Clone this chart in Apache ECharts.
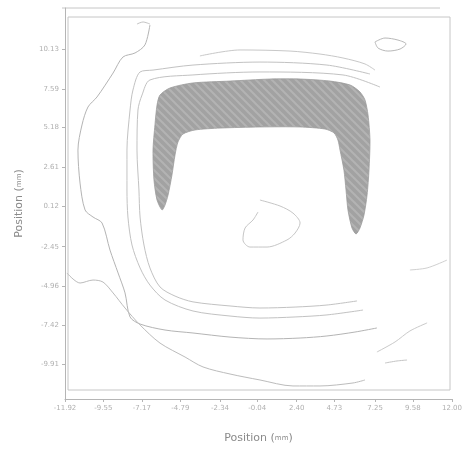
<!DOCTYPE html>
<html>
<head>
<meta charset="utf-8">
<script src="https://cdn.jsdelivr.net/npm/echarts@6/dist/echarts.min.js"></script>
<style>html,body{margin:0;padding:0;background:#fff;}#c{width:468px;height:449px;}</style>
</head>
<body>
<div id="c"></div>
<script>
// Axis tick labels (mm)
const xTickLabels = ['-11.92','-9.55','-7.17','-4.79','-2.34','-0.04','2.40','4.73','7.25','9.58','12.00'];
const yTickLabels = ['10.13','7.59','5.18','2.61','0.12','-2.45','-4.96','-7.42','-9.91'];
const xRange = [-11.92, 12.00];
const yRange = [-12.14, 12.74];

// Filled region (horseshoe) boundary [x, y] in mm
const filledRegion = [
  [-5.92,-0.11],[-6.23,0.52],[-6.42,1.80],[-6.48,3.70],[-6.36,5.30],[-6.23,6.57],[-6.05,7.20],
  [-5.43,7.65],[-4.01,7.97],[-1.72,8.09],[0.75,8.22],[2.61,8.22],[4.46,8.09],[5.70,7.84],
  [6.31,7.40],[6.62,6.89],[6.81,5.93],[6.93,4.34],[6.87,2.43],[6.75,0.84],[6.56,-0.43],
  [6.31,-1.26],[6.07,-1.64],[5.82,-1.26],[5.57,-0.11],[5.45,1.16],[5.32,2.43],[5.08,3.70],
  [4.95,4.34],[4.71,4.79],[4.15,5.04],[2.61,5.17],[0.13,5.17],[-2.34,5.10],[-3.88,4.98],
  [-4.63,4.72],[-4.94,4.21],[-5.12,3.39],[-5.31,2.11],[-5.55,0.84],[-5.74,0.20]
];

// Contour lines [x, y] in mm
const contourA = [[7.55,7.71],[5.26,8.48],[0.13,8.67],[-4.01,8.48],[-6.67,8.16],[-7.16,7.20],[-7.41,6.25],[-7.47,3.70],[-7.35,1.16],[-7.28,-0.56],[-7.04,-2.34],[-6.67,-3.80],[-6.05,-5.01],[-5.12,-5.59],[-4.01,-5.96],[-1.72,-6.22],[0.13,-6.35],[2.30,-6.29],[4.27,-6.16],[6.13,-5.90]];
const contourB = [[6.93,8.54],[4.27,9.11],[0.13,9.30],[-4.01,9.11],[-6.48,8.79],[-7.28,8.67],[-7.72,7.52],[-7.90,6.25],[-8.09,3.70],[-8.09,1.16],[-8.03,-0.56],[-7.78,-2.34],[-7.28,-3.80],[-6.67,-4.89],[-5.74,-5.84],[-4.01,-6.54],[-1.72,-6.86],[0.13,-6.99],[2.30,-6.92],[4.27,-6.79],[6.50,-6.48]];
const contourTop = [[-3.58,9.69],[-1.10,10.07],[1.99,10.00],[3.84,9.81],[5.26,9.56],[6.62,9.18],[7.24,8.79]];
const contourC = [[-6.67,11.66],[-6.98,10.39],[-7.59,9.88],[-8.34,9.62],[-8.95,8.60],[-9.94,7.08],[-10.50,6.44],[-10.87,5.30],[-11.12,3.70],[-10.99,1.60],[-10.68,-0.11],[-10.19,-0.56],[-9.63,-0.94],[-9.14,-2.66],[-8.64,-4.12],[-8.21,-5.39],[-7.90,-6.92],[-7.28,-7.37],[-5.74,-7.75],[-4.01,-7.94],[-1.72,-8.20],[0.57,-8.32],[2.61,-8.26],[4.27,-8.13],[6.00,-7.88],[7.36,-7.62]];
const contourD = [[-11.80,-4.12],[-10.99,-4.76],[-10.19,-4.57],[-9.57,-4.70],[-8.95,-5.39],[-8.21,-6.35],[-7.28,-7.43],[-6.05,-8.58],[-4.50,-9.47],[-3.39,-10.10],[-1.72,-10.55],[0.13,-10.93],[2.17,-11.31],[3.84,-11.31],[5.88,-11.12],[6.62,-10.93]];
const contourE = [[7.36,-9.15],[8.48,-8.51],[9.40,-7.81],[10.46,-7.30]];
const contourF = [[7.86,-9.85],[8.60,-9.72],[9.22,-9.66]];
const contourG = [[9.40,-3.93],[10.46,-3.80],[11.69,-3.30]];
const contourCenter = [[0.13,0.52],[1.37,0.14],[2.17,-0.31],[2.61,-0.94],[2.30,-1.58],[1.80,-2.02],[0.57,-2.47],[-0.49,-2.47],[-0.92,-2.02],[-0.79,-1.26],[-0.30,-0.75],[0.01,-0.24]];
const contourLoop = [[7.24,10.58],[7.86,10.83],[8.66,10.70],[9.16,10.45],[8.79,10.13],[8.04,10.00],[7.43,10.19],[7.24,10.58]];
const contourSmall = [[-7.47,11.72],[-7.10,11.85],[-6.67,11.72]];

const xTickValues = xTickLabels.map(Number);
const yTickValues = yTickLabels.map(Number);

// hatch pattern for filled region
const pc = document.createElement('canvas');
pc.width = 8; pc.height = 8;
const g = pc.getContext('2d');
g.fillStyle = '#a2a2a2'; g.fillRect(0,0,8,8);
g.strokeStyle = '#b3b3b3'; g.lineWidth = 2;
g.beginPath(); g.moveTo(0,0); g.lineTo(8,8); g.moveTo(-4,4); g.lineTo(4,12); g.moveTo(4,-4); g.lineTo(12,4); g.stroke();

const chart = echarts.init(document.getElementById('c'), null, {renderer:'canvas'});
const FONT = 'DejaVu Sans';
const lineSeries = (data, color) => ({
  type:'line', data, xAxisIndex:0, yAxisIndex:0, showSymbol:false, symbol:'none',
  smooth:0.3, silent:true, lineStyle:{color: color || '#bdbdbd', width:1}, z:3
});

chart.setOption({
  animation:false,
  backgroundColor:'#fff',
  grid:[
    {left:65, right:16, top:8, bottom:50, show:false},
    {left:68, right:18, top:17, bottom:59, show:true, borderColor:'#c6c6c6', borderWidth:1, backgroundColor:'transparent'}
  ],
  xAxis:[
    {type:'value', gridIndex:0, min:xRange[0], max:xRange[1],
     name:'Position ({s|mm})', nameLocation:'middle', nameGap:34,
     nameTextStyle:{color:'#8a8a8a', fontSize:11, fontFamily:FONT, rich:{s:{fontSize:7, color:'#8a8a8a', fontFamily:FONT}}},
     axisLine:{show:true, onZero:false, lineStyle:{color:'#b5b5b5'}},
     axisTick:{show:true, length:3, customValues:xTickValues, lineStyle:{color:'#b5b5b5'}},
     axisLabel:{customValues:xTickValues, color:'#b0b0b0', fontSize:7, fontFamily:FONT, margin:6,
       formatter:v => { const i = xTickValues.indexOf(v); return i >= 0 ? xTickLabels[i] : ''; }},
     splitLine:{show:false}},
    {type:'value', gridIndex:1, show:false, min:0, max:1}
  ],
  yAxis:[
    {type:'value', gridIndex:0, min:yRange[0], max:yRange[1],
     name:'Position ({s|mm})', nameLocation:'middle', nameGap:40, nameRotate:90,
     nameTextStyle:{color:'#8a8a8a', fontSize:11, fontFamily:FONT, rich:{s:{fontSize:7, color:'#8a8a8a', fontFamily:FONT}}},
     axisLine:{show:true, onZero:false, lineStyle:{color:'#b5b5b5'}},
     axisTick:{show:true, length:3, customValues:yTickValues, lineStyle:{color:'#b5b5b5'}},
     axisLabel:{customValues:yTickValues, color:'#b0b0b0', fontSize:7, fontFamily:FONT, margin:6,
       formatter:v => { const i = yTickValues.indexOf(v); return i >= 0 ? yTickLabels[i] : ''; }},
     splitLine:{show:false}},
    {type:'value', gridIndex:1, show:false, min:0, max:1}
  ],
  graphic:[
    {type:'line', shape:{x1:62, y1:8, x2:440, y2:8}, style:{stroke:'#c6c6c6', lineWidth:1}, silent:true}
  ],
  series:[
    {type:'custom', xAxisIndex:0, yAxisIndex:0, data:filledRegion, silent:true, z:2,
     encode:{x:0, y:1},
     renderItem:(params, api) => {
       if (params.dataIndex !== 0) return null;
       const pts = filledRegion.map(p => api.coord(p));
       return {type:'polygon', shape:{points:pts, smooth:0.25},
               style:{fill:{image:pc, repeat:'repeat'}, stroke:'#9c9c9c', lineWidth:0.8}};
     }},
    lineSeries(contourA, '#c2c2c2'),
    lineSeries(contourB, '#c2c2c2'),
    lineSeries(contourTop, '#c8c8c8'),
    lineSeries(contourC, '#b4b4b4'),
    lineSeries(contourD, '#bcbcbc'),
    lineSeries(contourE, '#cacaca'),
    lineSeries(contourF, '#c4c4c4'),
    lineSeries(contourG, '#d0d0d0'),
    lineSeries(contourCenter, '#c6c6c6'),
    lineSeries(contourLoop, '#b8b8b8'),
    lineSeries(contourSmall, '#c4c4c4')
  ]
});
</script>
</body>
</html>
